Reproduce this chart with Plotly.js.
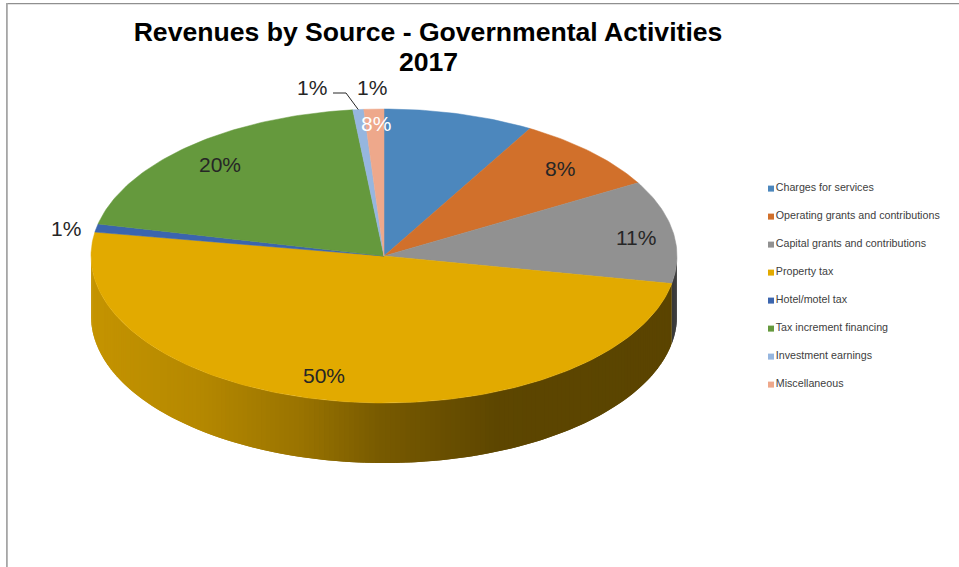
<!DOCTYPE html>
<html>
<head>
<meta charset="utf-8">
<script src="https://cdn.plot.ly/plotly-3.0.1.min.js"></script>
<style>html,body{margin:0;padding:0;background:#fff}#chart{width:959px;height:567px}</style>
</head>
<body>
<div id="chart"></div>
<script>
// Revenue sources, in percent of the total, clockwise from twelve o'clock.
const categories = [
  "Charges for services",
  "Operating grants and contributions",
  "Capital grants and contributions",
  "Property tax",
  "Hotel/motel tax",
  "Tax increment financing",
  "Investment earnings",
  "Miscellaneous"
];
const values = [8.3, 8.4, 11.3, 49.6, 0.9, 19.8, 0.6, 1.1];
const sliceColors = ["#4c87bd", "#d1702b", "#919191", "#e2aa00", "#3b65ae", "#65993d", "#96b6df", "#eea88b"];

// Where each percentage label sits, and its colour.
const labelX = [376, 560, 636, 324, 66, 220, 312, 372];
const labelY = [123, 168, 237, 375, 228, 164, 87, 87];
const labelColors = ["#ffffff", "#262626", "#262626", "#262626", "#262626", "#262626", "#262626", "#262626"];

// Disc geometry in the pixel-scaled axes.
const cx = 384, cy = 256, rx = 293, ry = 147, depth = 60;
const legendX = 771, legendTop = 188.6, legendStep = 28;

const rim = (deg, drop = 0) => {
  const a = deg * Math.PI / 180;
  return [cx + rx * Math.sin(a), cy - ry * Math.cos(a) + drop];
};

// Side-wall shading: lit on the left, falling off towards the right.
function shade(x) {
  const stops = [[91, 0.87], [200, 0.80], [300, 0.68], [380, 0.53], [500, 0.41], [677, 0.40]];
  for (let i = 1; i < stops.length; i++) {
    if (x <= stops[i][0]) {
      const t = (x - stops[i - 1][0]) / (stops[i][0] - stops[i - 1][0]);
      return stops[i - 1][1] + t * (stops[i][1] - stops[i - 1][1]);
    }
  }
  return stops[stops.length - 1][1];
}
function darken(hex, k) {
  const n = parseInt(hex.slice(1), 16);
  return `rgb(${Math.round((n >> 16) * k)},${Math.round(((n >> 8) & 255) * k)},${Math.round((n & 255) * k)})`;
}

const total = values.reduce((a, b) => a + b, 0);
const edges = [0];
values.forEach(v => edges.push(edges[edges.length - 1] + v / total * 360));

const traces = [];

// Front wall: narrow strips along the visible half of the rim. Each strip runs
// a little under the next one so no seams show between them.
values.forEach((v, i) => {
  const from = Math.max(edges[i], 90), to = Math.min(edges[i + 1], 270);
  if (to <= from) return;
  const step = 1;
  for (let a = from; a < to; a += step) {
    const b = Math.min(a + step, to);
    const end = Math.min(b + step, to);
    const arc = [];
    for (let k = 0; k <= 4; k++) arc.push(a + (end - a) * k / 4);
    const p = arc.map(d => rim(d)).concat(arc.slice().reverse().map(d => rim(d, depth)));
    p.push(p[0]);
    const col = darken(sliceColors[i], shade(rim((a + b) / 2)[0]));
    traces.push({
      type: "scatter", mode: "lines", x: p.map(q => q[0]), y: p.map(q => q[1]),
      fill: "toself", fillcolor: col, line: { width: 0 },
      hoverinfo: "skip", showlegend: false
    });
  }
});

// Top face: one filled wedge per category.
values.forEach((v, i) => {
  const pts = [[cx, cy]];
  const n = Math.max(2, Math.ceil(edges[i + 1] - edges[i]));
  for (let k = 0; k <= n; k++) pts.push(rim(edges[i] + (edges[i + 1] - edges[i]) * k / n));
  pts.push([cx, cy]);
  traces.push({
    type: "scatter", mode: "lines", name: categories[i],
    x: pts.map(q => q[0]), y: pts.map(q => q[1]),
    fill: "toself", fillcolor: sliceColors[i], line: { color: sliceColors[i], width: 0.5 },
    hoverinfo: "name", showlegend: false
  });
});

// Leader line from the investment earnings label to the rim of its slice.
const leaderEnd = rim((edges[6] + edges[7]) / 2);
traces.push({
  type: "scatter", mode: "lines",
  x: [333, 346, leaderEnd[0]], y: [93, 93, leaderEnd[1]],
  line: { color: "#262626", width: 1 }, hoverinfo: "skip", showlegend: false
});

// Key at the right: square swatch followed by the category name.
traces.push({
  type: "scatter", mode: "markers+text",
  x: categories.map(() => legendX),
  y: categories.map((c, i) => legendTop + i * legendStep),
  text: categories, textposition: "middle right",
  textfont: { family: "Liberation Sans, Arial, sans-serif", size: 10.7, color: "#404040" },
  marker: { symbol: "square", size: 6, color: sliceColors },
  hoverinfo: "skip", showlegend: false
});

const annotations = values.map((v, i) => ({
  x: labelX[i], y: labelY[i], xref: "x", yref: "y", showarrow: false,
  text: Math.round(v) + "%", xanchor: "center", yanchor: "middle",
  font: { family: "Liberation Sans, Arial, sans-serif", size: 21, color: labelColors[i] }
}));
annotations.push({
  x: 428, y: 62, xref: "x", yref: "y", showarrow: false, text: "<b>2017</b>",
  xanchor: "center", yanchor: "middle",
  font: { family: "Liberation Sans, Arial, sans-serif", size: 26.6, color: "#000000" }
});

const layout = {
  width: 959, height: 567,
  margin: { l: 0, r: 0, t: 0, b: 0 },
  paper_bgcolor: "#ffffff", plot_bgcolor: "#ffffff",
  showlegend: false,
  title: {
    text: "<b>Revenues by Source - Governmental Activities</b>",
    x: 428 / 959, xanchor: "center", xref: "paper",
    y: 1 - 32 / 567, yanchor: "middle", yref: "paper",
    font: { family: "Liberation Sans, Arial, sans-serif", size: 26.6, color: "#000000" }
  },
  xaxis: { range: [0, 959], visible: false, fixedrange: true },
  yaxis: { range: [567, 0], visible: false, fixedrange: true },
  annotations,
  shapes: [
    { type: "line", xref: "paper", yref: "paper", x0: 7 / 959, x1: 1, y0: 1 - 3.6 / 567, y1: 1 - 3.6 / 567, line: { color: "#8f8f8f", width: 1.4 } },
    { type: "line", xref: "paper", yref: "paper", x0: 6.9 / 959, x1: 6.9 / 959, y0: 0, y1: 1 - 3 / 567, line: { color: "#a6a6a6", width: 1.8 } }
  ]
};

Plotly.newPlot("chart", traces, layout, { displayModeBar: false, responsive: false });
</script>
</body>
</html>
